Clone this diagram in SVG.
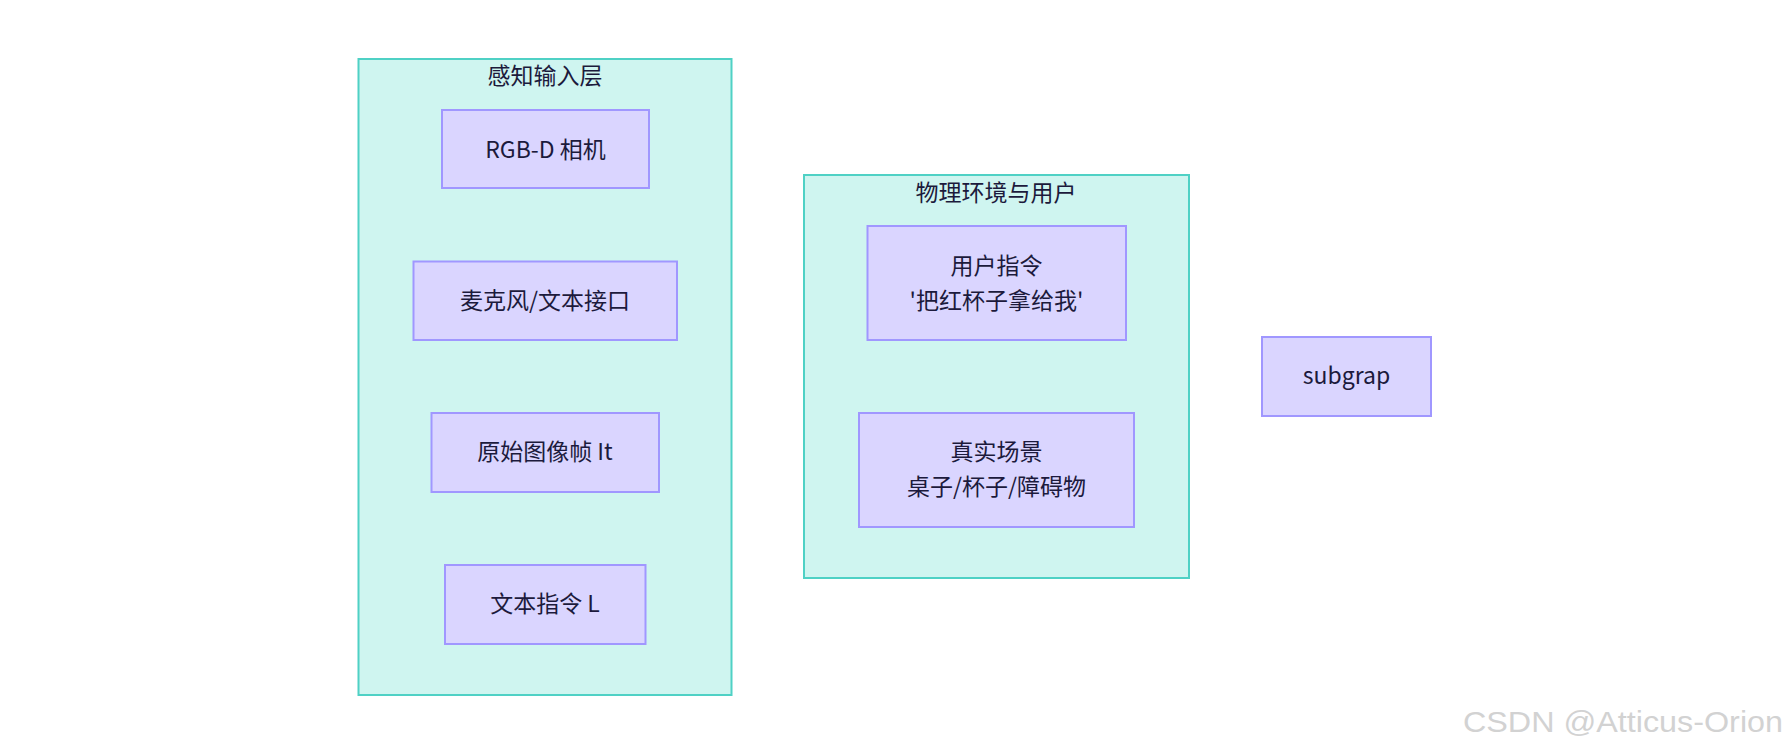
<svg xmlns="http://www.w3.org/2000/svg" width="1789" height="753" viewBox="0 0 1789 753">
<style>
.cluster{fill:#cff5f0;stroke:#4fd1c5;stroke-width:2}
.node{fill:#dad5ff;stroke:#a097ff;stroke-width:2}
.t{font-family:"Noto Sans CJK SC","Noto Sans",sans-serif;font-size:23px;fill:#1c1a3c;text-anchor:middle}
.wm{font-family:"Liberation Sans",Arial,sans-serif;font-size:29px;fill:#d2d2d2}
</style>
<rect width="1789" height="753" fill="#ffffff"/>
<g id="cluster-perception">
<rect class="cluster" x="358.5" y="59" width="373" height="636"/>
<text class="t" x="545" y="84">感知输入层</text>
</g>
<g id="cluster-env">
<rect class="cluster" x="804" y="175" width="385" height="403"/>
<text class="t" x="996" y="200.5">物理环境与用户</text>
</g>
<g id="connectors"></g>
<g id="node-rgbd">
<rect class="node" x="442" y="110" width="207" height="78"/>
<text class="t" x="545.5" y="157.5">RGB-D 相机</text>
</g>
<g id="node-mic">
<rect class="node" x="413.5" y="261.5" width="263.5" height="78.5"/>
<text class="t" x="545" y="308.5">麦克风/文本接口</text>
</g>
<g id="node-image">
<rect class="node" x="431.5" y="413" width="227.5" height="79"/>
<text class="t" x="545" y="460">原始图像帧 It</text>
</g>
<g id="node-text">
<rect class="node" x="445" y="565" width="200.5" height="79"/>
<text class="t" x="545" y="612">文本指令 L</text>
</g>
<g id="node-user">
<rect class="node" x="867.5" y="226" width="258.5" height="114"/>
<text class="t" x="996.5" y="273.5">用户指令</text>
<text class="t" x="996.5" y="308.5">'把红杯子拿给我'</text>
</g>
<g id="node-scene">
<rect class="node" x="859" y="413" width="275" height="114"/>
<text class="t" x="996.5" y="460">真实场景</text>
<text class="t" x="996.5" y="495">桌子/杯子/障碍物</text>
</g>
<g id="node-subgrap">
<rect class="node" x="1262" y="337" width="169" height="79"/>
<text class="t" x="1346.5" y="384">subgrap</text>
</g>
<text class="wm" x="1463" y="732" textLength="320" lengthAdjust="spacingAndGlyphs">CSDN @Atticus-Orion</text>
</svg>
